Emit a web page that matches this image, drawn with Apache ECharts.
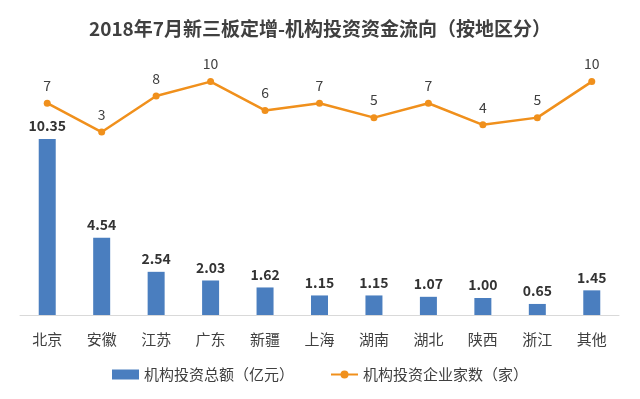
<!DOCTYPE html>
<html>
<head>
<meta charset="utf-8">
<script src="https://cdn.jsdelivr.net/npm/echarts@6/dist/echarts.min.js"></script>
<style>
  html, body { margin: 0; padding: 0; background: #ffffff; }
  #chart { width: 640px; height: 399px; }
</style>
</head>
<body>
<div id="chart"></div>
<script>
// 2018年7月新三板定增 — 机构投资资金流向（按地区分）
const regions = ['北京', '安徽', '江苏', '广东', '新疆', '上海', '湖南', '湖北', '陕西', '浙江', '其他'];
const amounts = [10.35, 4.54, 2.54, 2.03, 1.62, 1.15, 1.15, 1.07, 1.00, 0.65, 1.45];
const companies = [7, 3, 8, 10, 6, 7, 5, 7, 4, 5, 10];

const FONT = '"Noto Sans CJK SC", "Microsoft YaHei", sans-serif';
const INK = { title: '#404040', label: '#404040', value: '#333333', axis: '#d9d9d9' };
const BLUE = '#4a7ebf';
const ORANGE = '#f0901c';

const chart = echarts.init(document.getElementById('chart'), null, { renderer: 'canvas' });

chart.setOption({
  animation: false,
  textStyle: { fontFamily: FONT },
  title: {
    text: '2018年7月新三板定增-机构投资资金流向（按地区分）',
    left: 'center',
    top: 14,
    textStyle: { fontFamily: FONT, fontSize: 19, fontWeight: 'bold', color: INK.title },
  },
  legend: {
    bottom: 12,
    left: 'center',
    itemWidth: 27,
    itemHeight: 10,
    itemGap: 36,
    textStyle: { fontFamily: FONT, fontSize: 15, color: INK.label },
    data: [
      { name: '机构投资总额（亿元）', icon: 'rect' },
      { name: '机构投资企业家数（家）' },
    ],
  },
  grid: { left: 20, right: 21, top: 60, bottom: 84, containLabel: false },
  xAxis: {
    type: 'category',
    data: regions,
    axisLine: { lineStyle: { color: INK.axis, width: 1 } },
    axisTick: { show: false },
    axisLabel: { color: INK.label, fontSize: 15, margin: 17, fontFamily: FONT },
  },
  yAxis: [
    { type: 'value', min: 0, max: 15, show: false, splitLine: { show: false } },
    { type: 'value', min: -22.4, max: 13, show: false, splitLine: { show: false } },
  ],
  series: [
    {
      name: '机构投资总额（亿元）',
      type: 'bar',
      data: amounts,
      barWidth: 17,
      itemStyle: { color: BLUE },
      label: {
        show: true,
        position: 'top',
        distance: 6,
        fontSize: 14,
        fontWeight: 'bold',
        color: INK.value,
        fontFamily: FONT,
        formatter: (p) => p.value.toFixed(2),
      },
    },
    {
      name: '机构投资企业家数（家）',
      type: 'line',
      yAxisIndex: 1,
      data: companies,
      symbol: 'circle',
      symbolSize: 7,
      lineStyle: { color: ORANGE, width: 2.5 },
      itemStyle: { color: ORANGE },
      label: {
        show: true,
        position: 'top',
        distance: 7,
        fontSize: 14,
        color: INK.label,
        fontFamily: FONT,
      },
      z: 5,
    },
  ],
});
</script>
</body>
</html>
